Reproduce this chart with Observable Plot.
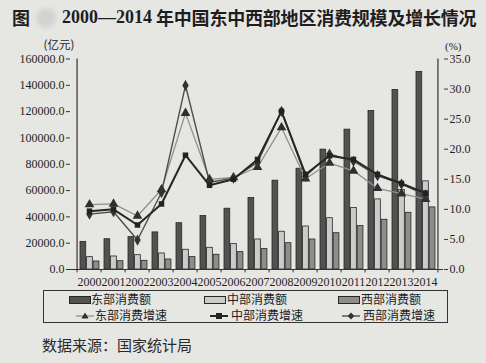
<!DOCTYPE html>
<html>
<head>
<meta charset="utf-8">
<script src="https://cdn.jsdelivr.net/npm/d3@7"></script>
<script src="https://cdn.jsdelivr.net/npm/@observablehq/plot@0.6"></script>
<style>
  html, body { margin: 0; padding: 0; }
  body { width: 486px; height: 363px; overflow: hidden; position: relative; background: #e6e6e3; font-family: "Liberation Serif", serif; color: #1e1e1e; }
  .abs { position: absolute; white-space: nowrap; }
  .cjk { font-family: "Noto Sans CJK SC", sans-serif; }
  #chart { position: absolute; left: 0; top: 36px; }
  #chart svg, #chart svg g, #chart svg text { font-family: "Liberation Serif", "Times New Roman", serif !important; }
  #chart svg g.cjk-unit text { font-family: "Noto Sans CJK SC", sans-serif !important; }
  #legend { position: absolute; left: 43px; top: 290px; width: 403px; height: 31px; border: 1.5px solid #333; }
  .lg { position: absolute; font-family: "Noto Sans CJK SC", sans-serif; font-size: 12px; line-height: 12px; color: #222; white-space: nowrap; }
  .sw { position: absolute; }
</style>
</head>
<body>
<div class="abs cjk" style="left:12px;top:5px;font-size:18px;font-weight:bold;line-height:24px;">图</div>
<div class="abs" style="left:36px;top:8px;width:20px;height:20px;border-radius:50%;background:#d2d2d0;filter:blur(2px);"></div>
<div class="abs" style="left:62px;top:5px;font-size:18px;font-weight:bold;line-height:24px;">2000—2014</div>
<div class="abs cjk" style="left:156px;top:5px;font-size:18px;font-weight:bold;line-height:24px;letter-spacing:-0.2px;">年中国东中西部地区消费规模及增长情况</div>
<div id="chart"></div>
<div id="legend"></div>
<div class="abs cjk" style="left:42px;top:336px;font-size:15px;line-height:18px;color:#2a2a2a;">数据来源：国家统计局</div>
<script>
// ---- data ----
const years = ["2000","2001","2002","2003","2004","2005","2006","2007","2008","2009","2010","2011","2012","2013","2014"];
const eastAmount    = [21000, 23000, 24600, 28200, 35200, 40600, 46200, 54300, 67500, 76600, 91100, 106300, 120500, 136500, 150200];
const centralAmount = [9400, 9900, 10900, 12200, 15000, 16500, 19300, 22800, 28700, 32700, 39000, 46700, 53300, 60500, 67000];
const westAmount    = [6100, 6300, 6600, 7600, 9400, 11200, 13200, 15500, 20000, 22800, 27600, 33000, 37800, 43100, 47200];
const eastGrowth    = [10.8, 10.9, 8.9, 13.3, 26.0, 15.0, 15.3, 17.0, 23.6, 15.1, 17.7, 16.4, 13.5, 12.6, 11.7];
const centralGrowth = [9.7, 10.0, 7.4, 10.9, 19.0, 14.0, 15.0, 18.3, 26.3, 15.8, 18.9, 18.3, 15.8, 14.3, 12.7];
const westGrowth    = [9.2, 9.6, 4.9, 12.8, 30.6, 14.5, 15.2, 17.8, 26.3, 15.5, 19.2, 18.0, 15.6, 14.2, 12.4];
const amountTicks = [0, 20000, 40000, 60000, 80000, 100000, 120000, 140000, 160000];
const pctTicks = [0, 5, 10, 15, 20, 25, 30, 35];
const seriesNames = ["东部消费额", "中部消费额", "西部消费额", "东部消费增速", "中部消费增速", "西部消费增速"];
const unitLeft = "(亿元)";
const unitRight = "(%)";

// ---- build ----
const yMax = 160000, pMax = 35, k = yMax / pMax;
const rows = years.map((y, i) => ({
  year: y,
  east: eastAmount[i], central: centralAmount[i], west: westAmount[i],
  eg: eastGrowth[i] * k, cg: centralGrowth[i] * k, wg: westGrowth[i] * k
}));

const W = 486, H = 254, mL = 70, mR = 43, mT = 22.5, mB = 21;
const bw = (W - mL - mR) / years.length;
const barW = 6.6;
const serif = "Liberation Serif, serif";
const c = {
  east: "#525252", central: "#cbcbc9", west: "#8d8d8b", edge: "#262626",
  eLine: "#8f8f8f", cLine: "#262626", wLine: "#4e4e4e"
};

const plot = Plot.plot({
  width: W, height: H,
  marginLeft: mL, marginRight: mR, marginTop: mT, marginBottom: mB,
  style: { background: "transparent", fontFamily: serif, fontSize: "12px", color: "#1e1e1e", overflow: "visible" },
  x: { type: "band", domain: years, padding: 0, axis: null },
  y: { domain: [0, yMax], axis: null },
  marks: [
    Plot.barY(rows, { x: "year", y: "east", insetLeft: 3, insetRight: bw - 3 - barW, fill: c.east, stroke: c.edge, strokeWidth: 0.8 }),
    Plot.barY(rows, { x: "year", y: "central", insetLeft: 3 + barW, insetRight: bw - 3 - 2 * barW, fill: c.central, stroke: c.edge, strokeWidth: 0.8 }),
    Plot.barY(rows, { x: "year", y: "west", insetLeft: 3 + 2 * barW, insetRight: bw - 3 - 3 * barW, fill: c.west, stroke: c.edge, strokeWidth: 0.8 }),
    Plot.ruleY([0], { stroke: "#333", strokeWidth: 1.2 }),
    Plot.ruleX([years[0]], { dx: -bw / 2, y1: 0, y2: yMax, stroke: "#333", strokeWidth: 1.2 }),
    Plot.ruleX([years[years.length - 1]], { dx: bw / 2, y1: 0, y2: yMax, stroke: "#333", strokeWidth: 1.2 }),
    Plot.ruleX(years, { x: d => d, dx: -bw / 2, y1: 0, y2: -2600, stroke: "#333" }),
    Plot.ruleX([years[years.length - 1]], { dx: bw / 2, y1: 0, y2: -2600, stroke: "#333" }),
    Plot.axisY({ anchor: "left", ticks: amountTicks, tickFormat: d => d.toFixed(1), tickSize: 4, tickPadding: 2, label: null, stroke: "#333", fontFamily: serif, fontSize: 12 }),
    Plot.axisY({ anchor: "right", ticks: pctTicks.map(p => p * k), tickFormat: d => (d / k).toFixed(1), tickSize: 4, tickPadding: 2, label: null, stroke: "#333", fontFamily: serif, fontSize: 12 }),
    Plot.axisX({ tickSize: 0, tickPadding: 7.5, label: null, fontSize: 12, fontFamily: serif, letterSpacing: "-0.3px" }),
    Plot.line(rows, { x: "year", y: "eg", stroke: c.eLine, strokeWidth: 1.3 }),
    Plot.line(rows, { x: "year", y: "wg", stroke: c.wLine, strokeWidth: 1.4 }),
    Plot.line(rows, { x: "year", y: "cg", stroke: c.cLine, strokeWidth: 2 }),
    Plot.dot(rows, { x: "year", y: "eg", symbol: "triangle", r: 3.6, fill: "#2e2e2e", stroke: "none" }),
    Plot.dot(rows, { x: "year", y: "wg", symbol: "diamond", r: 3.4, fill: "#333", stroke: "none" }),
    Plot.dot(rows, { x: "year", y: "cg", symbol: "square", r: 3.1, fill: "#222", stroke: "none" }),
    Plot.text([unitLeft], { text: d => d, frameAnchor: "top-left", dx: -27, dy: -18, fontSize: 11.5, className: "cjk-unit", fill: "#222" }),
    Plot.text([unitRight], { text: d => d, frameAnchor: "top-right", dx: 18, dy: -17, fontSize: 11, fontFamily: serif, fill: "#222" })
  ]
});
document.getElementById("chart").appendChild(plot);

// ---- legend ----
const legend = document.getElementById("legend");
const L0 = 43, T0 = 290;
function addItem(kind, x, y, textX, label) {
  const sw = document.createElementNS("http://www.w3.org/2000/svg", "svg");
  sw.setAttribute("class", "sw");
  let w = kind.startsWith("bar") ? 22 : 18;
  sw.setAttribute("width", w); sw.setAttribute("height", 10);
  sw.style.left = (x - L0) + "px"; sw.style.top = (y - T0 - 5) + "px";
  let inner = "";
  if (kind === "bar-east") inner = `<rect x="0.5" y="1.5" width="21" height="7" fill="${c.east}" stroke="${c.edge}" stroke-width="1"/>`;
  if (kind === "bar-central") inner = `<rect x="0.5" y="1.5" width="21" height="7" fill="${c.central}" stroke="${c.edge}" stroke-width="1"/>`;
  if (kind === "bar-west") inner = `<rect x="0.5" y="1.5" width="21" height="7" fill="${c.west}" stroke="${c.edge}" stroke-width="1"/>`;
  if (kind === "line-east") inner = `<line x1="0" y1="5" x2="${w}" y2="5" stroke="${c.eLine}" stroke-width="1.3"/><path d="M${w/2},1.6 L${w/2+3.6},7.6 L${w/2-3.6},7.6Z" fill="#2e2e2e"/>`;
  if (kind === "line-central") inner = `<line x1="0" y1="5" x2="${w}" y2="5" stroke="${c.cLine}" stroke-width="2"/><rect x="${w/2-3}" y="2" width="6" height="6" fill="#222"/>`;
  if (kind === "line-west") inner = `<line x1="0" y1="5" x2="${w}" y2="5" stroke="${c.wLine}" stroke-width="1.4"/><path d="M${w/2},1.4 L${w/2+3.4},5 L${w/2},8.6 L${w/2-3.4},5Z" fill="#333"/>`;
  sw.innerHTML = inner;
  legend.appendChild(sw);
  const t = document.createElement("div");
  t.className = "lg";
  t.textContent = label;
  t.style.left = (textX - L0) + "px"; t.style.top = (y - T0 - 6.5) + "px";
  legend.appendChild(t);
}
addItem("bar-east", 68, 298.5, 90, seriesNames[0]);
addItem("bar-central", 203, 298.5, 226, seriesNames[1]);
addItem("bar-west", 337, 298.5, 360, seriesNames[2]);
addItem("line-east", 75, 314.5, 94, seriesNames[3]);
addItem("line-central", 209, 314.5, 230, seriesNames[4]);
addItem("line-west", 341, 314.5, 362, seriesNames[5]);
</script>
</body>
</html>
